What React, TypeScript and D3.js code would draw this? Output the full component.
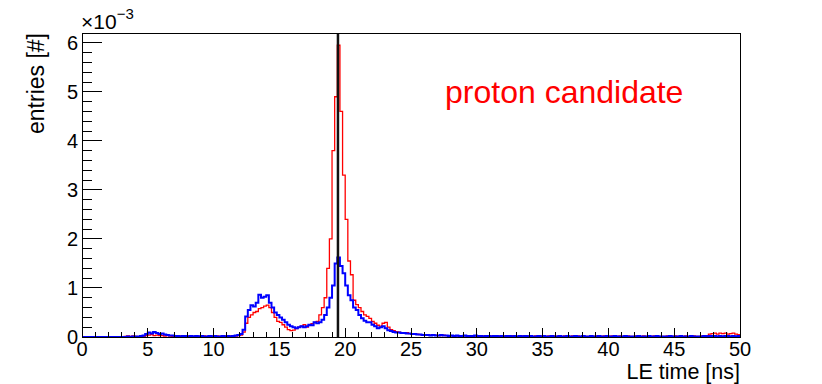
import React from "react";
import * as d3 from "d3";

// LE time histograms, 0.2 ns bins from 0 to 50 ns, values in units of 1e-3
const binWidth = 0.2;

const redCounts = [
  0, 0, 0, 0, 0, 0, 0, 0, 0, 0,
  0, 0, 0, 0, 0, 0, 0.01, 0.02, 0.01, 0.02,
  0.01, 0, 0.02, 0.01, 0.03, 0.04, 0.05, 0.03, 0.04, 0.03,
  0.03, 0.02, 0.03, 0.02, 0.01, 0.02, 0.01, 0.02, 0.01, 0.01,
  0.02, 0.01, 0.01, 0.02, 0.01, 0.01, 0.02, 0.01, 0.01, 0.02,
  0.01, 0.02, 0.01, 0.01, 0.02, 0.01, 0.02, 0.03, 0.02, 0.03,
  0.04, 0.1, 0.28, 0.4, 0.45, 0.5, 0.52, 0.58, 0.6, 0.63,
  0.65, 0.6, 0.5, 0.4, 0.32, 0.3, 0.25, 0.2, 0.15, 0.13,
  0.14, 0.17, 0.2, 0.22, 0.25, 0.2, 0.24, 0.27, 0.3, 0.32,
  0.45, 0.6, 0.8, 1.4, 2.0, 3.8, 4.9, 5.95, 4.6, 3.3,
  2.4, 1.55, 1.27, 0.75, 0.66, 0.6, 0.52, 0.45, 0.42, 0.38,
  0.32, 0.28, 0.24, 0.22, 0.28, 0.3, 0.2, 0.15, 0.13, 0.11,
  0.1, 0.09, 0.08, 0.09, 0.07, 0.07, 0.06, 0.06, 0.05, 0.05,
  0.04, 0.05, 0.04, 0.04, 0.04, 0.03, 0.03, 0.04, 0.03, 0.03,
  0.03, 0.02, 0.03, 0.02, 0.03, 0.03, 0.02, 0.02, 0.03, 0.02,
  0.02, 0.03, 0.02, 0.02, 0.03, 0.02, 0.02, 0.01, 0.02, 0.02,
  0.02, 0.01, 0.02, 0.03, 0.02, 0.01, 0.02, 0.02, 0.01, 0.02,
  0.02, 0.01, 0.02, 0.01, 0.02, 0.02, 0.01, 0.02, 0.01, 0.02,
  0.01, 0.02, 0.01, 0.02, 0.01, 0.01, 0.02, 0.01, 0.02, 0.01,
  0.02, 0.01, 0.01, 0.02, 0.01, 0.02, 0.01, 0.01, 0.02, 0.01,
  0.01, 0.02, 0.01, 0.01, 0.02, 0.01, 0.01, 0.02, 0.01, 0.01,
  0.02, 0.01, 0.01, 0.02, 0.01, 0.01, 0.01, 0.02, 0.01, 0.01,
  0.01, 0.01, 0.02, 0.01, 0.01, 0.02, 0.01, 0.01, 0.01, 0.02,
  0.01, 0.01, 0.02, 0.01, 0.01, 0.02, 0.01, 0.03, 0.06, 0.07,
  0.08, 0.06, 0.08, 0.07, 0.08, 0.06, 0.07, 0.08, 0.06, 0.05,
];

const blueCounts = [
  0, 0, 0, 0, 0, 0, 0, 0, 0, 0,
  0, 0, 0, 0, 0, 0, 0, 0.01, 0, 0.01,
  0.01, 0.01, 0.02, 0.03, 0.06, 0.09, 0.07, 0.1, 0.08, 0.06,
  0.07, 0.05, 0.04, 0.03, 0.03, 0.02, 0.02, 0.01, 0.02, 0.02,
  0.01, 0.02, 0.01, 0.02, 0.01, 0.02, 0.01, 0.01, 0.02, 0.01,
  0.02, 0.01, 0.01, 0.02, 0.01, 0.02, 0.01, 0.02, 0.03, 0.04,
  0.06, 0.15, 0.42, 0.55, 0.65, 0.62, 0.7, 0.86, 0.8, 0.82,
  0.85, 0.7, 0.6, 0.5, 0.45, 0.4, 0.35, 0.3, 0.25, 0.22,
  0.2, 0.18, 0.2, 0.22, 0.2, 0.22, 0.25, 0.24, 0.3, 0.28,
  0.3, 0.35, 0.45, 0.6, 0.8, 1.05, 1.5, 1.62, 1.45, 1.3,
  1.05, 0.85, 0.75, 0.6, 0.55, 0.45, 0.38, 0.33, 0.3, 0.3,
  0.25, 0.22, 0.18, 0.2, 0.22, 0.18, 0.14, 0.12, 0.1, 0.09,
  0.09, 0.08, 0.08, 0.07, 0.07, 0.06, 0.06, 0.05, 0.05, 0.04,
  0.04, 0.04, 0.03, 0.04, 0.03, 0.03, 0.04, 0.03, 0.03, 0.02,
  0.03, 0.02, 0.03, 0.02, 0.02, 0.03, 0.02, 0.02, 0.02, 0.03,
  0.02, 0.02, 0.01, 0.02, 0.02, 0.01, 0.02, 0.02, 0.01, 0.02,
  0.01, 0.02, 0.02, 0.01, 0.02, 0.01, 0.02, 0.01, 0.02, 0.01,
  0.02, 0.01, 0.01, 0.02, 0.01, 0.02, 0.01, 0.01, 0.02, 0.01,
  0.01, 0.02, 0.01, 0.01, 0.02, 0.01, 0.01, 0.02, 0.01, 0.01,
  0.02, 0.01, 0.01, 0.02, 0.01, 0.01, 0.02, 0.01, 0.01, 0.02,
  0.01, 0.01, 0.02, 0.01, 0.01, 0.01, 0.02, 0.01, 0.01, 0.01,
  0.01, 0.02, 0.01, 0.01, 0.01, 0.02, 0.01, 0.01, 0.02, 0.01,
  0.01, 0.01, 0.01, 0.02, 0.01, 0.01, 0.01, 0.02, 0.01, 0.01,
  0.01, 0.02, 0.01, 0.01, 0.01, 0.01, 0.02, 0.01, 0.02, 0.02,
  0.02, 0.01, 0.02, 0.01, 0.02, 0.02, 0.01, 0.02, 0.01, 0.02,
];

const xTicks = [0, 5, 10, 15, 20, 25, 30, 35, 40, 45, 50];
const yTicks = [0, 1, 2, 3, 4, 5, 6];
const markerTime = 19.45;

const W = 822;
const H = 384;
const left = 82;
const right = 740;
const top = 33;
const bottom = 337;
const font = "'Liberation Sans', Arial, Helvetica, sans-serif";

export default function App() {
  const x = d3.scaleLinear().domain([0, 50]).range([left, right]);
  const y = d3.scaleLinear().domain([0, 6.2]).range([bottom, top]);

  const stepLine = d3
    .line<[number, number]>()
    .x((d) => x(d[0]))
    .y((d) => y(d[1]))
    .curve(d3.curveStepAfter);

  const histPath = (counts: number[]) => {
    const pts: [number, number][] = counts.map((v, i) => [i * binWidth, v]);
    pts.push([counts.length * binWidth, counts[counts.length - 1]]);
    return stepLine(pts) || "";
  };

  // minor ticks: 5 per major division
  const xMinor = d3.range(0, 50.001, 1).filter((v) => v % 5 !== 0);
  const yMinor = d3.range(0, 6.2, 0.2).filter((v) => Math.abs(v - Math.round(v)) > 1e-6);

  return (
    <svg
      width={W}
      height={H}
      style={{ position: "absolute", left: 0, top: 0, background: "#fff" }}
      fontFamily={font}
    >
      <rect x={0} y={0} width={W} height={H} fill="#fff" />

      <path d={histPath(redCounts)} fill="none" stroke="#ff0000" strokeWidth={1.3} />
      <path d={histPath(blueCounts)} fill="none" stroke="#0000ff" strokeWidth={2} />

      <line
        x1={x(markerTime)}
        x2={x(markerTime)}
        y1={top}
        y2={bottom}
        stroke="#111"
        strokeWidth={2.5}
      />

      {/* frame */}
      <rect
        x={left}
        y={top}
        width={right - left}
        height={bottom - top}
        fill="none"
        stroke="#000"
        strokeWidth={1}
        shapeRendering="crispEdges"
      />

      {/* ticks */}
      <g stroke="#000" strokeWidth={1} shapeRendering="crispEdges">
        {xTicks.map((t) => (
          <line key={"xM" + t} x1={x(t)} x2={x(t)} y1={bottom} y2={bottom - 9.5} />
        ))}
        {xMinor.map((t) => (
          <line key={"xm" + t} x1={x(t)} x2={x(t)} y1={bottom} y2={bottom - 4.7} />
        ))}
        {yTicks.map((t) => (
          <line key={"yM" + t} x1={left} x2={left + 19.5} y1={y(t)} y2={y(t)} />
        ))}
        {yMinor.map((t) => (
          <line key={"ym" + t} x1={left} x2={left + 9.7} y1={y(t)} y2={y(t)} />
        ))}
      </g>

      <g fontSize={20} fill="#000">
        {xTicks.map((t) => (
          <text key={"xl" + t} x={x(t)} y={356} textAnchor="middle">
            {t}
          </text>
        ))}
        {yTicks.map((t) => (
          <text key={"yl" + t} x={78} y={y(t)} dy="0.36em" textAnchor="end">
            {t}
          </text>
        ))}
      </g>

      <text x={81} y={29} fontSize={21} fill="#000">
        ×10
        <tspan fontSize={15} dy={-10}>
          −3
        </tspan>
      </text>

      <text x={right} y={379.4} fontSize={21.5} textAnchor="end" fill="#000">
        LE time [ns]
      </text>
      <text
        transform={`translate(44,${top}) rotate(-90)`}
        fontSize={23}
        textAnchor="end"
        fill="#000"
      >
        entries [#]
      </text>

      <text x={445} y={103} fontSize={32} fill="#ff0000">
        proton candidate
      </text>
    </svg>
  );
}
